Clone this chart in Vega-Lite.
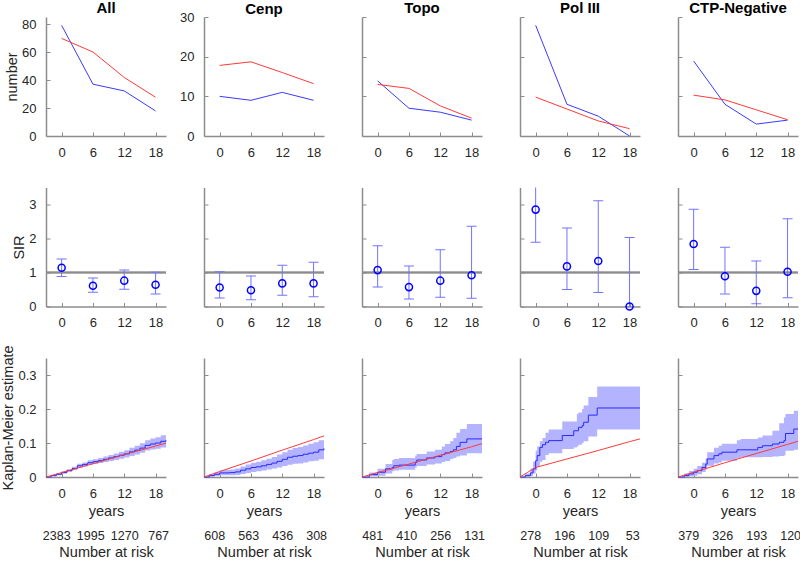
{
"$schema": "https://vega.github.io/schema/vega-lite/v6.json",
"background": "white",
"padding": {"left": 0, "top": 0, "right": 3, "bottom": 0},
"config": {
  "font": "Liberation Sans",
  "view": {"stroke": null},
  "axis": {"domainColor": "#8c8c8c", "domainWidth": 1.5, "tickColor": "#8c8c8c", "tickWidth": 1, "tickSize": -4, "labelFontSize": 13, "labelColor": "#262626", "titleFontSize": 14.5, "titleFontWeight": "normal", "titleColor": "#262626", "grid": false, "labelFlush": false, "labelOverlap": false},
  "axisX": {"labelPadding": 14, "titlePadding": 4},
  "axisY": {"labelPadding": 14, "titlePadding": 2},
  "title": {"fontSize": 15, "fontWeight": "bold", "color": "#000000", "offset": 1}
},
"datasets": {
  "num": [
    {"grp":"All","series":"obs","year":0,"value":79},{"grp":"All","series":"obs","year":6,"value":37},{"grp":"All","series":"obs","year":12,"value":32.2},{"grp":"All","series":"obs","year":18,"value":17.9},
    {"grp":"All","series":"exp","year":0,"value":69.7},{"grp":"All","series":"exp","year":6,"value":60},{"grp":"All","series":"exp","year":12,"value":41.8},{"grp":"All","series":"exp","year":18,"value":27.7},
    {"grp":"Cenp","series":"obs","year":0,"value":10},{"grp":"Cenp","series":"obs","year":6,"value":9},{"grp":"Cenp","series":"obs","year":12,"value":11},{"grp":"Cenp","series":"obs","year":18,"value":9},
    {"grp":"Cenp","series":"exp","year":0,"value":17.8},{"grp":"Cenp","series":"exp","year":6,"value":18.7},{"grp":"Cenp","series":"exp","year":12,"value":16},{"grp":"Cenp","series":"exp","year":18,"value":13.2},
    {"grp":"Topo","series":"obs","year":0,"value":13.9},{"grp":"Topo","series":"obs","year":6,"value":7},{"grp":"Topo","series":"obs","year":12,"value":6},{"grp":"Topo","series":"obs","year":18,"value":4},
    {"grp":"Topo","series":"exp","year":0,"value":13},{"grp":"Topo","series":"exp","year":6,"value":12},{"grp":"Topo","series":"exp","year":12,"value":7.6},{"grp":"Topo","series":"exp","year":18,"value":4.5},
    {"grp":"Pol III","series":"obs","year":0,"value":27.9},{"grp":"Pol III","series":"obs","year":6,"value":8},{"grp":"Pol III","series":"obs","year":12,"value":5},{"grp":"Pol III","series":"obs","year":18,"value":0},
    {"grp":"Pol III","series":"exp","year":0,"value":9.8},{"grp":"Pol III","series":"exp","year":6,"value":6.8},{"grp":"Pol III","series":"exp","year":12,"value":3.8},{"grp":"Pol III","series":"exp","year":18,"value":1.85},
    {"grp":"CTP-Negative","series":"obs","year":0,"value":18.9},{"grp":"CTP-Negative","series":"obs","year":6,"value":8},{"grp":"CTP-Negative","series":"obs","year":12,"value":3},{"grp":"CTP-Negative","series":"obs","year":18,"value":4},
    {"grp":"CTP-Negative","series":"exp","year":0,"value":10.3},{"grp":"CTP-Negative","series":"exp","year":6,"value":9.1},{"grp":"CTP-Negative","series":"exp","year":12,"value":6.6},{"grp":"CTP-Negative","series":"exp","year":18,"value":4.1}
  ],
  "sir": [
    {"grp":"All","year":0,"sir":1.14,"lo":0.88,"hi":1.4},{"grp":"All","year":6,"sir":0.61,"lo":0.42,"hi":0.84},{"grp":"All","year":12,"sir":0.76,"lo":0.51,"hi":1.07},{"grp":"All","year":18,"sir":0.64,"lo":0.37,"hi":1.01},
    {"grp":"Cenp","year":0,"sir":0.56,"lo":0.25,"hi":1.02},{"grp":"Cenp","year":6,"sir":0.48,"lo":0.2,"hi":0.9},{"grp":"Cenp","year":12,"sir":0.68,"lo":0.33,"hi":1.21},{"grp":"Cenp","year":18,"sir":0.68,"lo":0.29,"hi":1.3},
    {"grp":"Topo","year":0,"sir":1.07,"lo":0.57,"hi":1.79},{"grp":"Topo","year":6,"sir":0.57,"lo":0.22,"hi":1.19},{"grp":"Topo","year":12,"sir":0.76,"lo":0.27,"hi":1.67},{"grp":"Topo","year":18,"sir":0.92,"lo":0.24,"hi":2.36},
    {"grp":"Pol III","year":0,"sir":2.85,"lo":1.89,"hi":3.9},{"grp":"Pol III","year":6,"sir":1.18,"lo":0.5,"hi":2.31},{"grp":"Pol III","year":12,"sir":1.34,"lo":0.41,"hi":3.11},{"grp":"Pol III","year":18,"sir":0,"lo":0,"hi":2.03},
    {"grp":"CTP-Negative","year":0,"sir":1.84,"lo":1.09,"hi":2.86},{"grp":"CTP-Negative","year":6,"sir":0.89,"lo":0.37,"hi":1.74},{"grp":"CTP-Negative","year":12,"sir":0.46,"lo":0.08,"hi":1.34},{"grp":"CTP-Negative","year":18,"sir":1.02,"lo":0.26,"hi":2.58}
  ],
  "km": [
    {"grp":"All","t":-3,"est":0,"lo":0,"hi":0},{"grp":"All","t":-2,"est":0.004,"lo":0.002,"hi":0.006},{"grp":"All","t":-1,"est":0.008,"lo":0.005,"hi":0.011},{"grp":"All","t":0,"est":0.013,"lo":0.01,"hi":0.017},{"grp":"All","t":1,"est":0.019,"lo":0.015,"hi":0.023},{"grp":"All","t":2,"est":0.025,"lo":0.02,"hi":0.03},{"grp":"All","t":3,"est":0.033,"lo":0.027,"hi":0.039},{"grp":"All","t":4,"est":0.037,"lo":0.031,"hi":0.043},{"grp":"All","t":5,"est":0.042,"lo":0.036,"hi":0.049},{"grp":"All","t":6,"est":0.045,"lo":0.038,"hi":0.052},{"grp":"All","t":7,"est":0.048,"lo":0.041,"hi":0.056},{"grp":"All","t":8,"est":0.052,"lo":0.044,"hi":0.06},{"grp":"All","t":9,"est":0.056,"lo":0.047,"hi":0.065},{"grp":"All","t":10,"est":0.06,"lo":0.05,"hi":0.069},{"grp":"All","t":11,"est":0.064,"lo":0.054,"hi":0.074},{"grp":"All","t":12,"est":0.068,"lo":0.057,"hi":0.079},{"grp":"All","t":13,"est":0.074,"lo":0.062,"hi":0.086},{"grp":"All","t":14,"est":0.079,"lo":0.066,"hi":0.092},{"grp":"All","t":15,"est":0.085,"lo":0.071,"hi":0.099},{"grp":"All","t":16,"est":0.093,"lo":0.078,"hi":0.108},{"grp":"All","t":17,"est":0.097,"lo":0.081,"hi":0.113},{"grp":"All","t":18,"est":0.1,"lo":0.083,"hi":0.117},{"grp":"All","t":19,"est":0.105,"lo":0.087,"hi":0.123},{"grp":"All","t":20,"est":0.108,"lo":0.09,"hi":0.126},
    {"grp":"Cenp","t":-3,"est":0,"lo":0,"hi":0},{"grp":"Cenp","t":-2,"est":0.004,"lo":0.001,"hi":0.008},{"grp":"Cenp","t":-1,"est":0.008,"lo":0.003,"hi":0.014},{"grp":"Cenp","t":0,"est":0.012,"lo":0.005,"hi":0.02},{"grp":"Cenp","t":1,"est":0.012,"lo":0.005,"hi":0.021},{"grp":"Cenp","t":2,"est":0.013,"lo":0.005,"hi":0.022},{"grp":"Cenp","t":3,"est":0.015,"lo":0.006,"hi":0.025},{"grp":"Cenp","t":4,"est":0.02,"lo":0.009,"hi":0.031},{"grp":"Cenp","t":5,"est":0.024,"lo":0.012,"hi":0.037},{"grp":"Cenp","t":6,"est":0.028,"lo":0.015,"hi":0.042},{"grp":"Cenp","t":7,"est":0.03,"lo":0.017,"hi":0.045},{"grp":"Cenp","t":8,"est":0.033,"lo":0.019,"hi":0.049},{"grp":"Cenp","t":9,"est":0.037,"lo":0.022,"hi":0.054},{"grp":"Cenp","t":10,"est":0.041,"lo":0.025,"hi":0.059},{"grp":"Cenp","t":11,"est":0.046,"lo":0.028,"hi":0.066},{"grp":"Cenp","t":12,"est":0.052,"lo":0.032,"hi":0.073},{"grp":"Cenp","t":13,"est":0.058,"lo":0.036,"hi":0.08},{"grp":"Cenp","t":14,"est":0.061,"lo":0.039,"hi":0.085},{"grp":"Cenp","t":15,"est":0.063,"lo":0.04,"hi":0.088},{"grp":"Cenp","t":16,"est":0.067,"lo":0.043,"hi":0.093},{"grp":"Cenp","t":17,"est":0.07,"lo":0.046,"hi":0.098},{"grp":"Cenp","t":18,"est":0.073,"lo":0.048,"hi":0.102},{"grp":"Cenp","t":19,"est":0.08,"lo":0.052,"hi":0.108},{"grp":"Cenp","t":20,"est":0.084,"lo":0.055,"hi":0.112},
    {"grp":"Topo","t":-3,"est":0,"lo":0,"hi":0},{"grp":"Topo","t":-1.6,"est":0.007,"lo":0.002,"hi":0.013},{"grp":"Topo","t":0,"est":0.014,"lo":0.004,"hi":0.024},{"grp":"Topo","t":1.5,"est":0.024,"lo":0.01,"hi":0.038},{"grp":"Topo","t":2.8,"est":0.028,"lo":0.017,"hi":0.05},{"grp":"Topo","t":3.1,"est":0.033,"lo":0.019,"hi":0.053},{"grp":"Topo","t":4.1,"est":0.035,"lo":0.021,"hi":0.056},{"grp":"Topo","t":7.2,"est":0.043,"lo":0.028,"hi":0.063},{"grp":"Topo","t":7.5,"est":0.05,"lo":0.032,"hi":0.068},{"grp":"Topo","t":9.4,"est":0.056,"lo":0.037,"hi":0.075},{"grp":"Topo","t":11,"est":0.06,"lo":0.04,"hi":0.08},{"grp":"Topo","t":12.3,"est":0.066,"lo":0.044,"hi":0.09},{"grp":"Topo","t":12.9,"est":0.071,"lo":0.047,"hi":0.097},{"grp":"Topo","t":13.9,"est":0.075,"lo":0.053,"hi":0.105},{"grp":"Topo","t":14.5,"est":0.08,"lo":0.056,"hi":0.115},{"grp":"Topo","t":15.1,"est":0.09,"lo":0.06,"hi":0.13},{"grp":"Topo","t":15.8,"est":0.102,"lo":0.063,"hi":0.141},{"grp":"Topo","t":17.1,"est":0.112,"lo":0.07,"hi":0.156},{"grp":"Topo","t":20,"est":0.112,"lo":0.07,"hi":0.156},
    {"grp":"Pol III","t":-3,"est":0,"lo":0,"hi":0},{"grp":"Pol III","t":-2,"est":0.004,"lo":0,"hi":0.01},{"grp":"Pol III","t":-1,"est":0.012,"lo":0.003,"hi":0.025},{"grp":"Pol III","t":-0.5,"est":0.024,"lo":0.01,"hi":0.045},{"grp":"Pol III","t":0,"est":0.048,"lo":0.019,"hi":0.077},{"grp":"Pol III","t":0.3,"est":0.063,"lo":0.03,"hi":0.09},{"grp":"Pol III","t":0.8,"est":0.087,"lo":0.045,"hi":0.105},{"grp":"Pol III","t":1.3,"est":0.095,"lo":0.05,"hi":0.115},{"grp":"Pol III","t":1.9,"est":0.102,"lo":0.065,"hi":0.13},{"grp":"Pol III","t":2.5,"est":0.107,"lo":0.07,"hi":0.14},{"grp":"Pol III","t":5.1,"est":0.122,"lo":0.082,"hi":0.163},{"grp":"Pol III","t":7.3,"est":0.136,"lo":0.087,"hi":0.163},{"grp":"Pol III","t":7.9,"est":0.136,"lo":0.09,"hi":0.185},{"grp":"Pol III","t":8.2,"est":0.146,"lo":0.095,"hi":0.19},{"grp":"Pol III","t":8.9,"est":0.151,"lo":0.1,"hi":0.2},{"grp":"Pol III","t":9.2,"est":0.161,"lo":0.105,"hi":0.21},{"grp":"Pol III","t":10.1,"est":0.182,"lo":0.119,"hi":0.235},{"grp":"Pol III","t":11.8,"est":0.203,"lo":0.14,"hi":0.266},{"grp":"Pol III","t":20,"est":0.203,"lo":0.14,"hi":0.266},
    {"grp":"CTP-Negative","t":-3,"est":0,"lo":0,"hi":0},{"grp":"CTP-Negative","t":-1.8,"est":0.004,"lo":0,"hi":0.01},{"grp":"CTP-Negative","t":-0.9,"est":0.009,"lo":0.002,"hi":0.018},{"grp":"CTP-Negative","t":0,"est":0.014,"lo":0.004,"hi":0.024},{"grp":"CTP-Negative","t":0.7,"est":0.019,"lo":0.008,"hi":0.032},{"grp":"CTP-Negative","t":1.6,"est":0.028,"lo":0.015,"hi":0.042},{"grp":"CTP-Negative","t":2.3,"est":0.038,"lo":0.022,"hi":0.055},{"grp":"CTP-Negative","t":2.6,"est":0.053,"lo":0.033,"hi":0.073},{"grp":"CTP-Negative","t":3.9,"est":0.063,"lo":0.04,"hi":0.086},{"grp":"CTP-Negative","t":4.8,"est":0.068,"lo":0.043,"hi":0.092},{"grp":"CTP-Negative","t":5.4,"est":0.073,"lo":0.048,"hi":0.098},{"grp":"CTP-Negative","t":8.3,"est":0.08,"lo":0.056,"hi":0.108},{"grp":"CTP-Negative","t":9,"est":0.08,"lo":0.058,"hi":0.112},{"grp":"CTP-Negative","t":12.3,"est":0.087,"lo":0.058,"hi":0.116},{"grp":"CTP-Negative","t":13.2,"est":0.092,"lo":0.059,"hi":0.122},{"grp":"CTP-Negative","t":15.1,"est":0.097,"lo":0.06,"hi":0.136},{"grp":"CTP-Negative","t":16.4,"est":0.102,"lo":0.062,"hi":0.158},{"grp":"CTP-Negative","t":17.3,"est":0.107,"lo":0.063,"hi":0.175},{"grp":"CTP-Negative","t":17.6,"est":0.128,"lo":0.077,"hi":0.185},{"grp":"CTP-Negative","t":19.2,"est":0.141,"lo":0.08,"hi":0.195},{"grp":"CTP-Negative","t":20,"est":0.141,"lo":0.08,"hi":0.195}
  ],
  "exp": [
    {"grp":"All","t":-3,"value":0},{"grp":"All","t":0,"value":0.013},{"grp":"All","t":6,"value":0.039},{"grp":"All","t":12,"value":0.066},{"grp":"All","t":18,"value":0.091},{"grp":"All","t":20,"value":0.1},
    {"grp":"Cenp","t":-3,"value":0},{"grp":"Cenp","t":0,"value":0.016},{"grp":"Cenp","t":6,"value":0.047},{"grp":"Cenp","t":12,"value":0.079},{"grp":"Cenp","t":18,"value":0.11},{"grp":"Cenp","t":20,"value":0.121},
    {"grp":"Topo","t":-3,"value":0},{"grp":"Topo","t":0,"value":0.013},{"grp":"Topo","t":6,"value":0.038},{"grp":"Topo","t":12,"value":0.064},{"grp":"Topo","t":18,"value":0.089},{"grp":"Topo","t":20,"value":0.098},
    {"grp":"Pol III","t":-3,"value":0},{"grp":"Pol III","t":-1.5,"value":0.014},{"grp":"Pol III","t":0,"value":0.028},{"grp":"Pol III","t":6,"value":0.053},{"grp":"Pol III","t":12,"value":0.078},{"grp":"Pol III","t":18,"value":0.104},{"grp":"Pol III","t":20,"value":0.112},
    {"grp":"CTP-Negative","t":-3,"value":0},{"grp":"CTP-Negative","t":0,"value":0.014},{"grp":"CTP-Negative","t":6,"value":0.042},{"grp":"CTP-Negative","t":12,"value":0.069},{"grp":"CTP-Negative","t":18,"value":0.096},{"grp":"CTP-Negative","t":20,"value":0.105}
  ],
  "risk": [
    {"grp":"All","year":0,"n":2383},{"grp":"All","year":6,"n":1995},{"grp":"All","year":12,"n":1270},{"grp":"All","year":18,"n":767},
    {"grp":"Cenp","year":0,"n":608},{"grp":"Cenp","year":6,"n":563},{"grp":"Cenp","year":12,"n":436},{"grp":"Cenp","year":18,"n":308},
    {"grp":"Topo","year":0,"n":481},{"grp":"Topo","year":6,"n":410},{"grp":"Topo","year":12,"n":256},{"grp":"Topo","year":18,"n":131},
    {"grp":"Pol III","year":0,"n":278},{"grp":"Pol III","year":6,"n":196},{"grp":"Pol III","year":12,"n":109},{"grp":"Pol III","year":18,"n":53},
    {"grp":"CTP-Negative","year":0,"n":379},{"grp":"CTP-Negative","year":6,"n":326},{"grp":"CTP-Negative","year":12,"n":193},{"grp":"CTP-Negative","year":18,"n":120}
  ]
},
"columns": 5,
"bounds": "flush",
"align": "each",
"spacing": {"row": 51.5, "column": 38},
"resolve": {"scale": {"x": "independent", "y": "independent", "color": "independent"}},
"concat": [
   {"width":120,"height":119,"title":"All","data":{"name":"num"},"transform":[{"filter":"datum.grp === 'All'"}],"mark":{"type":"line","strokeWidth":1},
    "encoding":{"x":{"field":"year","type":"quantitative","scale":{"domain":[-3,20],"nice":false,"zero":false},"axis":{"values":[0,6,12,18],"title":null,"labelOverlap":false}},
      "y":{"field":"value","type":"quantitative","scale":{"domain":[0,85],"nice":false},"axis":{"values":[0,20,40,60,80],"title":"number"}},
      "color":{"field":"series","type":"nominal","scale":{"domain":["obs","exp"],"range":["#3a3aff","#ff3a3a"]},"legend":null}}},
   {"width":120,"height":119,"title":{"text":"Cenp","offset":-6},"data":{"name":"num"},"transform":[{"filter":"datum.grp === 'Cenp'"}],"mark":{"type":"line","strokeWidth":1},
    "encoding":{"x":{"field":"year","type":"quantitative","scale":{"domain":[-3,20],"nice":false,"zero":false},"axis":{"values":[0,6,12,18],"title":null,"labelOverlap":false}},
      "y":{"field":"value","type":"quantitative","scale":{"domain":[0,30],"nice":false},"axis":{"values":[0,10,20,30],"title":null}},
      "color":{"field":"series","type":"nominal","scale":{"domain":["obs","exp"],"range":["#3a3aff","#ff3a3a"]},"legend":null}}},
   {"width":120,"height":119,"title":"Topo","data":{"name":"num"},"transform":[{"filter":"datum.grp === 'Topo'"}],"mark":{"type":"line","strokeWidth":1},
    "encoding":{"x":{"field":"year","type":"quantitative","scale":{"domain":[-3,20],"nice":false,"zero":false},"axis":{"values":[0,6,12,18],"title":null,"labelOverlap":false}},
      "y":{"field":"value","type":"quantitative","scale":{"domain":[0,30],"nice":false},"axis":{"values":[0,10,20,30],"title":null,"labels":false}},
      "color":{"field":"series","type":"nominal","scale":{"domain":["obs","exp"],"range":["#3a3aff","#ff3a3a"]},"legend":null}}},
   {"width":120,"height":119,"title":"Pol III","data":{"name":"num"},"transform":[{"filter":"datum.grp === 'Pol III'"}],"mark":{"type":"line","strokeWidth":1},
    "encoding":{"x":{"field":"year","type":"quantitative","scale":{"domain":[-3,20],"nice":false,"zero":false},"axis":{"values":[0,6,12,18],"title":null,"labelOverlap":false}},
      "y":{"field":"value","type":"quantitative","scale":{"domain":[0,30],"nice":false},"axis":{"values":[0,10,20,30],"title":null,"labels":false}},
      "color":{"field":"series","type":"nominal","scale":{"domain":["obs","exp"],"range":["#3a3aff","#ff3a3a"]},"legend":null}}},
   {"width":120,"height":119,"title":"CTP-Negative","data":{"name":"num"},"transform":[{"filter":"datum.grp === 'CTP-Negative'"}],"mark":{"type":"line","strokeWidth":1},
    "encoding":{"x":{"field":"year","type":"quantitative","scale":{"domain":[-3,20],"nice":false,"zero":false},"axis":{"values":[0,6,12,18],"title":null,"labelOverlap":false}},
      "y":{"field":"value","type":"quantitative","scale":{"domain":[0,30],"nice":false},"axis":{"values":[0,10,20,30],"title":null,"labels":false}},
      "color":{"field":"series","type":"nominal","scale":{"domain":["obs","exp"],"range":["#3a3aff","#ff3a3a"]},"legend":null}}},

   {"width":120,"height":119,"data":{"name":"sir"},"transform":[{"filter":"datum.grp === 'All'"}],
    "layer":[
     {"mark":{"type":"rule","color":"#8c8c8c","strokeWidth":1.5},"encoding":{"y":{"datum":1,"type":"quantitative","scale":{"domain":[0,3.5],"nice":false},"axis":{"values":[0,1,2,3],"title":"SIR"}}}},
     {"mark":{"type":"rule","color":"#7373ff","strokeWidth":1,"clip":true},"encoding":{"x":{"field":"year","type":"quantitative","scale":{"domain":[-3,20],"nice":false,"zero":false},"axis":{"values":[0,6,12,18],"title":null,"labelOverlap":false}},"y":{"field":"lo","type":"quantitative","axis":{"values":[0,1,2,3],"title":"SIR"}},"y2":{"field":"hi"}}},
     {"mark":{"type":"tick","orient":"horizontal","size":10,"thickness":1,"color":"#7373ff","opacity":1,"clip":true},"encoding":{"x":{"field":"year","type":"quantitative","axis":{"values":[0,6,12,18],"title":null,"labelOverlap":false}},"y":{"field":"lo","type":"quantitative","axis":{"values":[0,1,2,3],"title":"SIR"}}}},
     {"mark":{"type":"tick","orient":"horizontal","size":10,"thickness":1,"color":"#7373ff","opacity":1,"clip":true},"encoding":{"x":{"field":"year","type":"quantitative","axis":{"values":[0,6,12,18],"title":null,"labelOverlap":false}},"y":{"field":"hi","type":"quantitative","axis":{"values":[0,1,2,3],"title":"SIR"}}}},
     {"mark":{"type":"point","shape":"circle","filled":false,"color":"#0000ff","strokeWidth":1.5,"size":50,"opacity":1},"encoding":{"x":{"field":"year","type":"quantitative","axis":{"values":[0,6,12,18],"title":null,"labelOverlap":false}},"y":{"field":"sir","type":"quantitative","axis":{"values":[0,1,2,3],"title":"SIR"}}}}
    ]},
   {"width":120,"height":119,"data":{"name":"sir"},"transform":[{"filter":"datum.grp === 'Cenp'"}],
    "layer":[
     {"mark":{"type":"rule","color":"#8c8c8c","strokeWidth":1.5},"encoding":{"y":{"datum":1,"type":"quantitative","scale":{"domain":[0,3.5],"nice":false},"axis":{"values":[0,1,2,3],"title":null,"labels":false}}}},
     {"mark":{"type":"rule","color":"#7373ff","strokeWidth":1,"clip":true},"encoding":{"x":{"field":"year","type":"quantitative","scale":{"domain":[-3,20],"nice":false,"zero":false},"axis":{"values":[0,6,12,18],"title":null,"labelOverlap":false}},"y":{"field":"lo","type":"quantitative","axis":{"values":[0,1,2,3],"title":null,"labels":false}},"y2":{"field":"hi"}}},
     {"mark":{"type":"tick","orient":"horizontal","size":10,"thickness":1,"color":"#7373ff","opacity":1,"clip":true},"encoding":{"x":{"field":"year","type":"quantitative","axis":{"values":[0,6,12,18],"title":null,"labelOverlap":false}},"y":{"field":"lo","type":"quantitative","axis":{"values":[0,1,2,3],"title":null,"labels":false}}}},
     {"mark":{"type":"tick","orient":"horizontal","size":10,"thickness":1,"color":"#7373ff","opacity":1,"clip":true},"encoding":{"x":{"field":"year","type":"quantitative","axis":{"values":[0,6,12,18],"title":null,"labelOverlap":false}},"y":{"field":"hi","type":"quantitative","axis":{"values":[0,1,2,3],"title":null,"labels":false}}}},
     {"mark":{"type":"point","shape":"circle","filled":false,"color":"#0000ff","strokeWidth":1.5,"size":50,"opacity":1},"encoding":{"x":{"field":"year","type":"quantitative","axis":{"values":[0,6,12,18],"title":null,"labelOverlap":false}},"y":{"field":"sir","type":"quantitative","axis":{"values":[0,1,2,3],"title":null,"labels":false}}}}
    ]},
   {"width":120,"height":119,"data":{"name":"sir"},"transform":[{"filter":"datum.grp === 'Topo'"}],
    "layer":[
     {"mark":{"type":"rule","color":"#8c8c8c","strokeWidth":1.5},"encoding":{"y":{"datum":1,"type":"quantitative","scale":{"domain":[0,3.5],"nice":false},"axis":{"values":[0,1,2,3],"title":null,"labels":false}}}},
     {"mark":{"type":"rule","color":"#7373ff","strokeWidth":1,"clip":true},"encoding":{"x":{"field":"year","type":"quantitative","scale":{"domain":[-3,20],"nice":false,"zero":false},"axis":{"values":[0,6,12,18],"title":null,"labelOverlap":false}},"y":{"field":"lo","type":"quantitative","axis":{"values":[0,1,2,3],"title":null,"labels":false}},"y2":{"field":"hi"}}},
     {"mark":{"type":"tick","orient":"horizontal","size":10,"thickness":1,"color":"#7373ff","opacity":1,"clip":true},"encoding":{"x":{"field":"year","type":"quantitative","axis":{"values":[0,6,12,18],"title":null,"labelOverlap":false}},"y":{"field":"lo","type":"quantitative","axis":{"values":[0,1,2,3],"title":null,"labels":false}}}},
     {"mark":{"type":"tick","orient":"horizontal","size":10,"thickness":1,"color":"#7373ff","opacity":1,"clip":true},"encoding":{"x":{"field":"year","type":"quantitative","axis":{"values":[0,6,12,18],"title":null,"labelOverlap":false}},"y":{"field":"hi","type":"quantitative","axis":{"values":[0,1,2,3],"title":null,"labels":false}}}},
     {"mark":{"type":"point","shape":"circle","filled":false,"color":"#0000ff","strokeWidth":1.5,"size":50,"opacity":1},"encoding":{"x":{"field":"year","type":"quantitative","axis":{"values":[0,6,12,18],"title":null,"labelOverlap":false}},"y":{"field":"sir","type":"quantitative","axis":{"values":[0,1,2,3],"title":null,"labels":false}}}}
    ]},
   {"width":120,"height":119,"data":{"name":"sir"},"transform":[{"filter":"datum.grp === 'Pol III'"}],
    "layer":[
     {"mark":{"type":"rule","color":"#8c8c8c","strokeWidth":1.5},"encoding":{"y":{"datum":1,"type":"quantitative","scale":{"domain":[0,3.5],"nice":false},"axis":{"values":[0,1,2,3],"title":null,"labels":false}}}},
     {"mark":{"type":"rule","color":"#7373ff","strokeWidth":1,"clip":true},"encoding":{"x":{"field":"year","type":"quantitative","scale":{"domain":[-3,20],"nice":false,"zero":false},"axis":{"values":[0,6,12,18],"title":null,"labelOverlap":false}},"y":{"field":"lo","type":"quantitative","axis":{"values":[0,1,2,3],"title":null,"labels":false}},"y2":{"field":"hi"}}},
     {"mark":{"type":"tick","orient":"horizontal","size":10,"thickness":1,"color":"#7373ff","opacity":1,"clip":true},"encoding":{"x":{"field":"year","type":"quantitative","axis":{"values":[0,6,12,18],"title":null,"labelOverlap":false}},"y":{"field":"lo","type":"quantitative","axis":{"values":[0,1,2,3],"title":null,"labels":false}}}},
     {"mark":{"type":"tick","orient":"horizontal","size":10,"thickness":1,"color":"#7373ff","opacity":1,"clip":true},"encoding":{"x":{"field":"year","type":"quantitative","axis":{"values":[0,6,12,18],"title":null,"labelOverlap":false}},"y":{"field":"hi","type":"quantitative","axis":{"values":[0,1,2,3],"title":null,"labels":false}}}},
     {"mark":{"type":"point","shape":"circle","filled":false,"color":"#0000ff","strokeWidth":1.5,"size":50,"opacity":1},"encoding":{"x":{"field":"year","type":"quantitative","axis":{"values":[0,6,12,18],"title":null,"labelOverlap":false}},"y":{"field":"sir","type":"quantitative","axis":{"values":[0,1,2,3],"title":null,"labels":false}}}}
    ]},
   {"width":120,"height":119,"data":{"name":"sir"},"transform":[{"filter":"datum.grp === 'CTP-Negative'"}],
    "layer":[
     {"mark":{"type":"rule","color":"#8c8c8c","strokeWidth":1.5},"encoding":{"y":{"datum":1,"type":"quantitative","scale":{"domain":[0,3.5],"nice":false},"axis":{"values":[0,1,2,3],"title":null,"labels":false}}}},
     {"mark":{"type":"rule","color":"#7373ff","strokeWidth":1,"clip":true},"encoding":{"x":{"field":"year","type":"quantitative","scale":{"domain":[-3,20],"nice":false,"zero":false},"axis":{"values":[0,6,12,18],"title":null,"labelOverlap":false}},"y":{"field":"lo","type":"quantitative","axis":{"values":[0,1,2,3],"title":null,"labels":false}},"y2":{"field":"hi"}}},
     {"mark":{"type":"tick","orient":"horizontal","size":10,"thickness":1,"color":"#7373ff","opacity":1,"clip":true},"encoding":{"x":{"field":"year","type":"quantitative","axis":{"values":[0,6,12,18],"title":null,"labelOverlap":false}},"y":{"field":"lo","type":"quantitative","axis":{"values":[0,1,2,3],"title":null,"labels":false}}}},
     {"mark":{"type":"tick","orient":"horizontal","size":10,"thickness":1,"color":"#7373ff","opacity":1,"clip":true},"encoding":{"x":{"field":"year","type":"quantitative","axis":{"values":[0,6,12,18],"title":null,"labelOverlap":false}},"y":{"field":"hi","type":"quantitative","axis":{"values":[0,1,2,3],"title":null,"labels":false}}}},
     {"mark":{"type":"point","shape":"circle","filled":false,"color":"#0000ff","strokeWidth":1.5,"size":50,"opacity":1},"encoding":{"x":{"field":"year","type":"quantitative","axis":{"values":[0,6,12,18],"title":null,"labelOverlap":false}},"y":{"field":"sir","type":"quantitative","axis":{"values":[0,1,2,3],"title":null,"labels":false}}}}
    ]},

   {"width":120,"height":119,
    "layer":[
     {"data":{"name":"km"},"transform":[{"filter":"datum.grp === 'All'"}],"mark":{"type":"area","interpolate":"step-after","color":"#b3b3ff","opacity":1},"encoding":{"x":{"field":"t","type":"quantitative","scale":{"domain":[-3,20],"nice":false,"zero":false},"axis":{"values":[0,6,12,18],"title":"years","labelOverlap":false}},"y":{"field":"lo","type":"quantitative","scale":{"domain":[0,0.35],"nice":false},"axis":{"values":[0,0.1,0.2,0.3],"format":"~g","title":"Kaplan-Meier estimate"}},"y2":{"field":"hi"}}},
     {"data":{"name":"km"},"transform":[{"filter":"datum.grp === 'All'"}],"mark":{"type":"line","interpolate":"step-after","color":"#2a2aff","strokeWidth":1},"encoding":{"x":{"field":"t","type":"quantitative","axis":{"values":[0,6,12,18],"title":"years","labelOverlap":false}},"y":{"field":"est","type":"quantitative","axis":{"values":[0,0.1,0.2,0.3],"format":"~g","title":"Kaplan-Meier estimate"}}}},
     {"data":{"name":"exp"},"transform":[{"filter":"datum.grp === 'All'"}],"mark":{"type":"line","color":"#ff3a3a","strokeWidth":1},"encoding":{"x":{"field":"t","type":"quantitative","axis":{"values":[0,6,12,18],"title":"years","labelOverlap":false}},"y":{"field":"value","type":"quantitative","axis":{"values":[0,0.1,0.2,0.3],"format":"~g","title":"Kaplan-Meier estimate"}}}}
    ]},
   {"width":120,"height":119,
    "layer":[
     {"data":{"name":"km"},"transform":[{"filter":"datum.grp === 'Cenp'"}],"mark":{"type":"area","interpolate":"step-after","color":"#b3b3ff","opacity":1},"encoding":{"x":{"field":"t","type":"quantitative","scale":{"domain":[-3,20],"nice":false,"zero":false},"axis":{"values":[0,6,12,18],"title":"years","labelOverlap":false}},"y":{"field":"lo","type":"quantitative","scale":{"domain":[0,0.35],"nice":false},"axis":{"values":[0,0.1,0.2,0.3],"title":null,"labels":false}},"y2":{"field":"hi"}}},
     {"data":{"name":"km"},"transform":[{"filter":"datum.grp === 'Cenp'"}],"mark":{"type":"line","interpolate":"step-after","color":"#2a2aff","strokeWidth":1},"encoding":{"x":{"field":"t","type":"quantitative","axis":{"values":[0,6,12,18],"title":"years","labelOverlap":false}},"y":{"field":"est","type":"quantitative","axis":{"values":[0,0.1,0.2,0.3],"title":null,"labels":false}}}},
     {"data":{"name":"exp"},"transform":[{"filter":"datum.grp === 'Cenp'"}],"mark":{"type":"line","color":"#ff3a3a","strokeWidth":1},"encoding":{"x":{"field":"t","type":"quantitative","axis":{"values":[0,6,12,18],"title":"years","labelOverlap":false}},"y":{"field":"value","type":"quantitative","axis":{"values":[0,0.1,0.2,0.3],"title":null,"labels":false}}}}
    ]},
   {"width":120,"height":119,
    "layer":[
     {"data":{"name":"km"},"transform":[{"filter":"datum.grp === 'Topo'"}],"mark":{"type":"area","interpolate":"step-after","color":"#b3b3ff","opacity":1},"encoding":{"x":{"field":"t","type":"quantitative","scale":{"domain":[-3,20],"nice":false,"zero":false},"axis":{"values":[0,6,12,18],"title":"years","labelOverlap":false}},"y":{"field":"lo","type":"quantitative","scale":{"domain":[0,0.35],"nice":false},"axis":{"values":[0,0.1,0.2,0.3],"title":null,"labels":false}},"y2":{"field":"hi"}}},
     {"data":{"name":"km"},"transform":[{"filter":"datum.grp === 'Topo'"}],"mark":{"type":"line","interpolate":"step-after","color":"#2a2aff","strokeWidth":1},"encoding":{"x":{"field":"t","type":"quantitative","axis":{"values":[0,6,12,18],"title":"years","labelOverlap":false}},"y":{"field":"est","type":"quantitative","axis":{"values":[0,0.1,0.2,0.3],"title":null,"labels":false}}}},
     {"data":{"name":"exp"},"transform":[{"filter":"datum.grp === 'Topo'"}],"mark":{"type":"line","color":"#ff3a3a","strokeWidth":1},"encoding":{"x":{"field":"t","type":"quantitative","axis":{"values":[0,6,12,18],"title":"years","labelOverlap":false}},"y":{"field":"value","type":"quantitative","axis":{"values":[0,0.1,0.2,0.3],"title":null,"labels":false}}}}
    ]},
   {"width":120,"height":119,
    "layer":[
     {"data":{"name":"km"},"transform":[{"filter":"datum.grp === 'Pol III'"}],"mark":{"type":"area","interpolate":"step-after","color":"#b3b3ff","opacity":1},"encoding":{"x":{"field":"t","type":"quantitative","scale":{"domain":[-3,20],"nice":false,"zero":false},"axis":{"values":[0,6,12,18],"title":"years","labelOverlap":false}},"y":{"field":"lo","type":"quantitative","scale":{"domain":[0,0.35],"nice":false},"axis":{"values":[0,0.1,0.2,0.3],"title":null,"labels":false}},"y2":{"field":"hi"}}},
     {"data":{"name":"km"},"transform":[{"filter":"datum.grp === 'Pol III'"}],"mark":{"type":"line","interpolate":"step-after","color":"#2a2aff","strokeWidth":1},"encoding":{"x":{"field":"t","type":"quantitative","axis":{"values":[0,6,12,18],"title":"years","labelOverlap":false}},"y":{"field":"est","type":"quantitative","axis":{"values":[0,0.1,0.2,0.3],"title":null,"labels":false}}}},
     {"data":{"name":"exp"},"transform":[{"filter":"datum.grp === 'Pol III'"}],"mark":{"type":"line","color":"#ff3a3a","strokeWidth":1},"encoding":{"x":{"field":"t","type":"quantitative","axis":{"values":[0,6,12,18],"title":"years","labelOverlap":false}},"y":{"field":"value","type":"quantitative","axis":{"values":[0,0.1,0.2,0.3],"title":null,"labels":false}}}}
    ]},
   {"width":120,"height":119,
    "layer":[
     {"data":{"name":"km"},"transform":[{"filter":"datum.grp === 'CTP-Negative'"}],"mark":{"type":"area","interpolate":"step-after","color":"#b3b3ff","opacity":1},"encoding":{"x":{"field":"t","type":"quantitative","scale":{"domain":[-3,20],"nice":false,"zero":false},"axis":{"values":[0,6,12,18],"title":"years","labelOverlap":false}},"y":{"field":"lo","type":"quantitative","scale":{"domain":[0,0.35],"nice":false},"axis":{"values":[0,0.1,0.2,0.3],"title":null,"labels":false}},"y2":{"field":"hi"}}},
     {"data":{"name":"km"},"transform":[{"filter":"datum.grp === 'CTP-Negative'"}],"mark":{"type":"line","interpolate":"step-after","color":"#2a2aff","strokeWidth":1},"encoding":{"x":{"field":"t","type":"quantitative","axis":{"values":[0,6,12,18],"title":"years","labelOverlap":false}},"y":{"field":"est","type":"quantitative","axis":{"values":[0,0.1,0.2,0.3],"title":null,"labels":false}}}},
     {"data":{"name":"exp"},"transform":[{"filter":"datum.grp === 'CTP-Negative'"}],"mark":{"type":"line","color":"#ff3a3a","strokeWidth":1},"encoding":{"x":{"field":"t","type":"quantitative","axis":{"values":[0,6,12,18],"title":"years","labelOverlap":false}},"y":{"field":"value","type":"quantitative","axis":{"values":[0,0.1,0.2,0.3],"title":null,"labels":false}}}}
    ]},

   {"width":120,"height":14,"data":{"name":"risk"},"transform":[{"filter":"datum.grp === 'All'"}],"mark":{"type":"text","fontSize":12.5,"color":"#262626"},
    "encoding":{"x":{"field":"year","type":"quantitative","scale":{"domain":[-1.9,19.3],"nice":false,"zero":false},"axis":{"title":"Number at risk","labels":false,"ticks":false,"domain":false,"titlePadding":3}},"text":{"field":"n","type":"quantitative","format":"d"}}},
   {"width":120,"height":14,"data":{"name":"risk"},"transform":[{"filter":"datum.grp === 'Cenp'"}],"mark":{"type":"text","fontSize":12.5,"color":"#262626"},
    "encoding":{"x":{"field":"year","type":"quantitative","scale":{"domain":[-1.9,19.3],"nice":false,"zero":false},"axis":{"title":"Number at risk","labels":false,"ticks":false,"domain":false,"titlePadding":3}},"text":{"field":"n","type":"quantitative","format":"d"}}},
   {"width":120,"height":14,"data":{"name":"risk"},"transform":[{"filter":"datum.grp === 'Topo'"}],"mark":{"type":"text","fontSize":12.5,"color":"#262626"},
    "encoding":{"x":{"field":"year","type":"quantitative","scale":{"domain":[-1.9,19.3],"nice":false,"zero":false},"axis":{"title":"Number at risk","labels":false,"ticks":false,"domain":false,"titlePadding":3}},"text":{"field":"n","type":"quantitative","format":"d"}}},
   {"width":120,"height":14,"data":{"name":"risk"},"transform":[{"filter":"datum.grp === 'Pol III'"}],"mark":{"type":"text","fontSize":12.5,"color":"#262626"},
    "encoding":{"x":{"field":"year","type":"quantitative","scale":{"domain":[-1.9,19.3],"nice":false,"zero":false},"axis":{"title":"Number at risk","labels":false,"ticks":false,"domain":false,"titlePadding":3}},"text":{"field":"n","type":"quantitative","format":"d"}}},
   {"width":120,"height":14,"data":{"name":"risk"},"transform":[{"filter":"datum.grp === 'CTP-Negative'"}],"mark":{"type":"text","fontSize":12.5,"color":"#262626"},
    "encoding":{"x":{"field":"year","type":"quantitative","scale":{"domain":[-1.9,19.3],"nice":false,"zero":false},"axis":{"title":"Number at risk","labels":false,"ticks":false,"domain":false,"titlePadding":3}},"text":{"field":"n","type":"quantitative","format":"d"}}}
]
}
